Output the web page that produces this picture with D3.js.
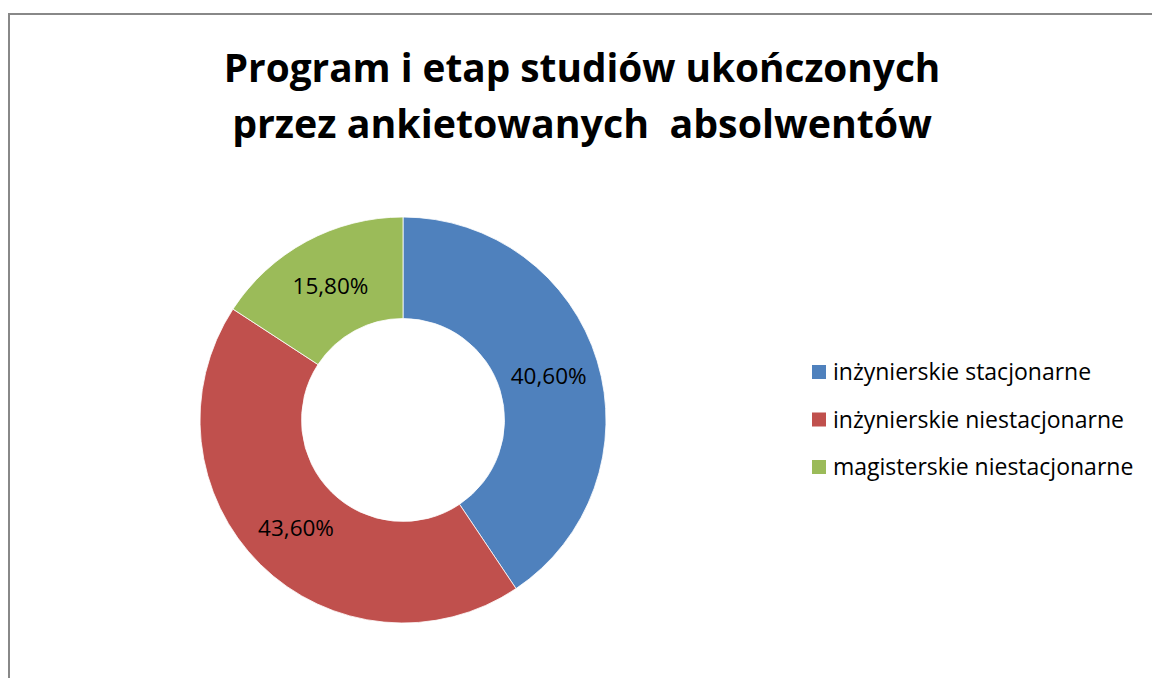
<!DOCTYPE html>
<meta charset="utf-8">
<script src="https://d3js.org/d3.v7.min.js"></script>
<style>
  body { margin: 0; background: #fff; }
  text { font-family: "Open Sans", "Noto Sans", sans-serif; fill: #000; }
</style>
<div id="chart"></div>
<script>
// data
const categories = ["inżynierskie stacjonarne", "inżynierskie niestacjonarne", "magisterskie niestacjonarne"];
const shares = [40.6, 43.6, 15.8];
const labels = ["40,60%", "43,60%", "15,80%"];
const colors = ["#4F81BD", "#C0504D", "#9BBB59"];
const titleLines = ["Program i etap studiów ukończonych", "przez ankietowanych  absolwentów"];

const width = 1152, height = 678;
const cx = 403, cy = 420, outerR = 203, innerR = 101.5;

const svg = d3.select("#chart").append("svg")
    .attr("width", width)
    .attr("height", height);

// chart frame (runs past right/bottom edge like the screenshot)
svg.append("rect")
    .attr("x", 9).attr("y", 14)
    .attr("width", 1300).attr("height", 800)
    .attr("fill", "#fff")
    .attr("stroke", "#888")
    .attr("stroke-width", 2);

// scale font so a text fits a given width
function fit(sel, target) {
  const w = sel.node().getComputedTextLength();
  const fs = parseFloat(sel.attr("font-size"));
  sel.attr("font-size", fs * target / w);
}

// title
const tw = [717, 700];
const tb = [82, 138];
titleLines.forEach((t, i) => {
  const s = svg.append("text")
      .attr("x", 582).attr("y", tb[i])
      .attr("text-anchor", "middle")
      .attr("font-weight", "bold")
      .attr("font-size", 40)
      .style("white-space", "pre")
      .text(t);
  fit(s, tw[i]);
});

// donut
const data = categories.map((c, i) => ({name: c, value: shares[i], label: labels[i], color: colors[i]}));
const pie = d3.pie().value(d => d.value).sort(null);
const arc = d3.arc().innerRadius(innerR).outerRadius(outerR);

const g = svg.append("g").attr("transform", `translate(${cx},${cy})`);
const arcs = pie(data);

g.selectAll("path")
  .data(arcs)
  .join("path")
    .attr("d", arc)
    .attr("fill", d => d.data.color)
    .attr("stroke", "#fff")
    .attr("stroke-width", 0.8);

g.selectAll("text.lbl")
  .data(arcs)
  .join("text")
    .attr("class", "lbl")
    .attr("transform", d => `translate(${arc.centroid(d)})`)
    .attr("text-anchor", "middle")
    .attr("dy", "0.35em")
    .attr("font-size", 22.5)
    .text(d => d.data.label);

// legend
const lg = svg.append("g").attr("transform", "translate(812,372)");
const item = lg.selectAll("g")
  .data(data)
  .join("g")
    .attr("transform", (d, i) => `translate(0,${i * 47.5})`);

item.append("rect")
    .attr("x", 0).attr("y", -7)
    .attr("width", 14).attr("height", 14)
    .attr("fill", d => d.color);

item.append("text")
    .attr("x", 21)
    .attr("dy", "0.35em")
    .attr("font-size", 23)
    .text(d => d.name);
</script>
